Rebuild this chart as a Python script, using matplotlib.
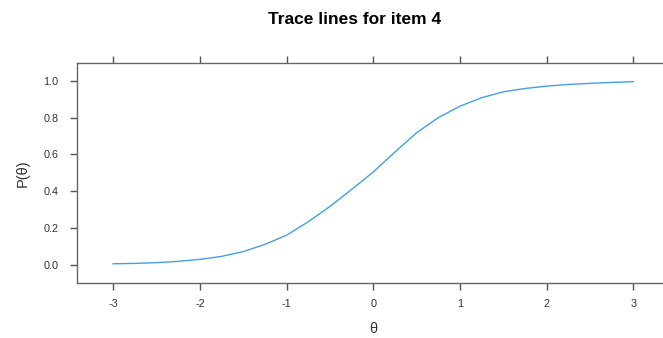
import matplotlib
matplotlib.use("Agg")
import matplotlib.pyplot as plt

plt.rcParams['font.family'] = ['Liberation Sans', 'DejaVu Sans']

# trace line for item 4 (theta grid and probability of endorsement)
theta = [-3.0, -2.75, -2.5, -2.25, -2.0, -1.75, -1.5, -1.25, -1.0, -0.75,
         -0.5, -0.25, 0.0, 0.25, 0.5, 0.75, 1.0, 1.25, 1.5, 1.75,
         2.0, 2.25, 2.5, 2.75, 3.0]
prob = [0.007, 0.009, 0.013, 0.020, 0.031, 0.047, 0.073, 0.112, 0.162, 0.235,
        0.318, 0.410, 0.505, 0.613, 0.718, 0.800, 0.862, 0.908, 0.940, 0.958,
        0.971, 0.980, 0.986, 0.991, 0.995]

xticks = [-3, -2, -1, 0, 1, 2, 3]
yticks = [0.0, 0.2, 0.4, 0.6, 0.8, 1.0]

W, H = 663, 338
fig = plt.figure(figsize=(W / 100, H / 100), dpi=100)
left, right, top, bottom = 76.7, 669.8, 62.7, 283.3
ax = fig.add_axes([left / W, 1 - bottom / H, (right - left) / W, (bottom - top) / H])

ax.plot(theta, prob, color='#42a0e6', lw=1.0)

ax.set_xlim(-3.42, 3.42)
ax.set_ylim(-0.099, 1.098)
ax.set_xticks(xticks)
ax.set_yticks(yticks)
ax.set_xticklabels([str(t) for t in xticks])
ax.set_yticklabels(['%.1f' % t for t in yticks])

for s in ax.spines.values():
    s.set_color('#666666')
    s.set_linewidth(1.0)

ax.tick_params(direction='out', length=5, width=1.0, color='#555555',
               labelsize=7.8, labelcolor='#333333',
               top=True, right=True, labeltop=False, labelright=False)
ax.tick_params(axis='y', pad=8)
ax.tick_params(axis='x', pad=6)

ax.set_xlabel('θ', fontsize=10.5, color='#333333', labelpad=10)
ax.set_ylabel('P(θ)', fontsize=10.5, color='#333333', labelpad=10)

fig.text(355 / W, 1 - 19 / H, 'Trace lines for item 4', ha='center', va='center',
         fontsize=12.5, fontweight='bold', color='black')

fig.savefig('out.png', dpi=100)
